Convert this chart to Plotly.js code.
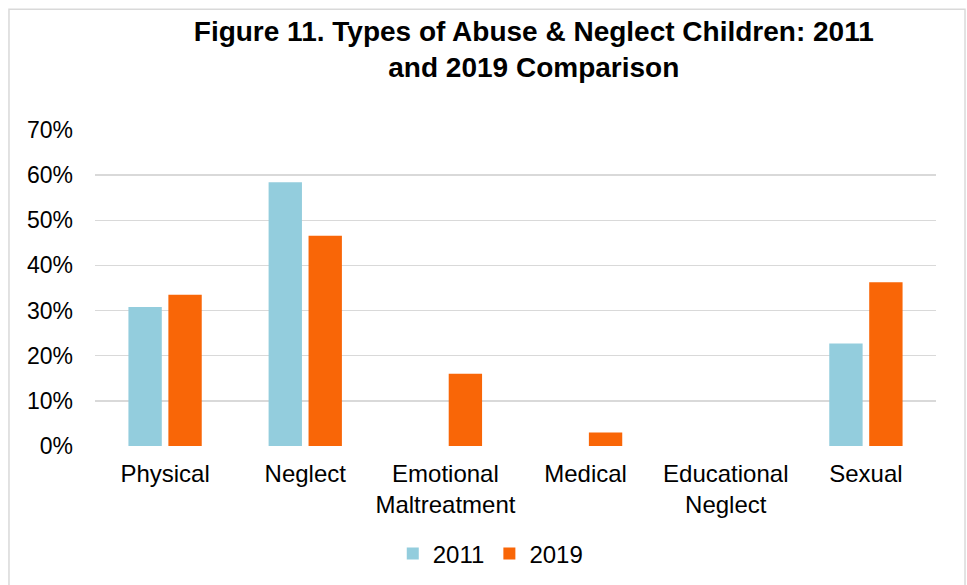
<!DOCTYPE html>
<html>
<head>
<meta charset="utf-8">
<script src="https://cdn.plot.ly/plotly-3.0.1.min.js"></script>
<style>
html,body{margin:0;padding:0;background:#fff;}
#chart{width:967px;height:585px;}
</style>
</head>
<body>
<div id="chart"></div>
<script>
var categories = ["Physical", "Neglect", "Emotional<br>Maltreatment", "Medical", "Educational<br>Neglect", "Sexual"];
var values2011 = [0.308, 0.584, 0, 0, 0, 0.227];
var values2019 = [0.335, 0.466, 0.160, 0.030, 0, 0.363];
var seriesNames = ["2011", "2019"];
var yTicks = [0, 0.1, 0.2, 0.3, 0.4, 0.5, 0.6, 0.7];

var FONT = "Liberation Sans, Arial, sans-serif";

var traces = [
  {type: "bar", name: seriesNames[0], x: categories, y: values2011,
   marker: {color: "#93CDDD"}, hoverinfo: "x+y"},
  {type: "bar", name: seriesNames[1], x: categories, y: values2019,
   marker: {color: "#F96607"}, hoverinfo: "x+y"}
];

var layout = {
  width: 967, height: 585,
  margin: {l: 95, r: 31, t: 130, b: 138.5, pad: 0, autoexpand: false},
  paper_bgcolor: "#fff", plot_bgcolor: "#fff",
  font: {family: FONT, size: 22, color: "#000"},
  title: {
    text: "<b>Figure 11. Types of Abuse & Neglect Children: 2011<br>and 2019 Comparison</b>",
    font: {family: FONT, size: 28, color: "#000"},
    x: 0.552, xref: "container", xanchor: "center",
    y: 0.93, yref: "container", yanchor: "top"
  },
  barmode: "group",
  bargap: 0.43,
  bargroupgap: 0.165,
  xaxis: {
    type: "category",
    showgrid: false, zeroline: false, showline: false,
    ticks: "", ticklabelstandoff: 11,
    tickfont: {family: FONT, size: 24, color: "#000"},
    fixedrange: true
  },
  yaxis: {
    range: [0, 0.7],
    tickvals: yTicks,
    tickformat: ".0%",
    showgrid: true, gridcolor: "#D9D9D9", gridwidth: 1.5,
    zeroline: false, showline: false, ticks: "",
    ticklabelstandoff: 21,
    tickfont: {family: FONT, size: 23, color: "#000"},
    fixedrange: true
  },
  legend: {
    orientation: "h",
    xref: "container", yref: "container",
    x: 0.507, xanchor: "center",
    y: 0.053, yanchor: "middle",
    font: {family: FONT, size: 24, color: "#000"},
    itemwidth: 30,
    traceorder: "normal"
  },
  shapes: [{
    type: "rect", xref: "paper", yref: "paper",
    x0: -0.1023, x1: 1.0345, y0: -0.46, y1: 1.3823,
    line: {color: "#D9D9D9", width: 1.5}, fillcolor: "rgba(0,0,0,0)",
    layer: "below"
  }],
  showlegend: true
};

Plotly.newPlot("chart", traces, layout, {displayModeBar: false, staticPlot: true});
</script>
</body>
</html>
